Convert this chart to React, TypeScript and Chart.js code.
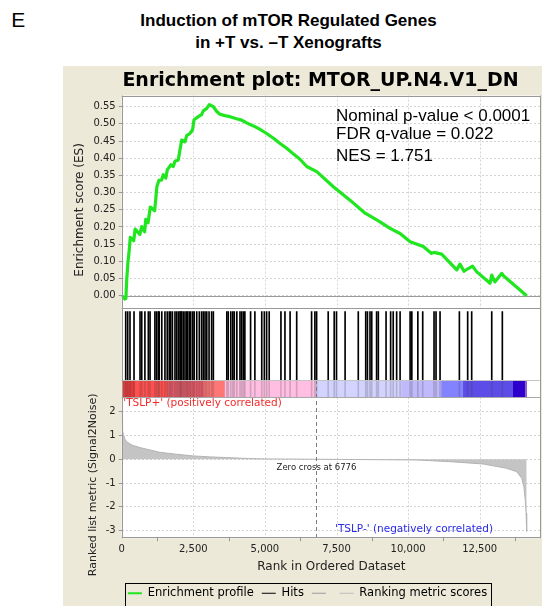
import React, { useEffect, useRef } from 'react';
import { Chart, registerables } from 'chart.js';

Chart.register(...registerables);

// ---------- data ----------
const X_MAX = 14640;
const X_TICKS = [0, 2500, 5000, 7500, 10000, 12500];
const ZERO_CROSS = 6776;

const ES_RANKS = [0, 115, 145, 175, 215, 260, 300, 420, 470, 630, 700, 800, 840, 920, 1000, 1150, 1230, 1300, 1390, 1450, 1540, 1590, 1720, 1800, 1860, 1975, 2035, 2095, 2210, 2270, 2380, 2475, 2525, 2675, 2790, 2850, 2970, 3060, 3200, 3320, 3430, 3600, 3780, 4010, 4190, 4360, 4600, 4830, 5060, 5300, 5530, 5760, 6000, 6225, 6460, 6810, 7390, 7970, 8500, 9020, 9370, 9720, 10070, 10530, 10820, 10900, 11170, 11700, 11810, 11950, 12100, 12250, 12390, 12860, 12920, 13030, 13270, 13330, 14140];
const ES_VALUES = [0.000, -0.010, -0.008, 0.046, 0.094, 0.130, 0.170, 0.160, 0.194, 0.178, 0.201, 0.186, 0.222, 0.212, 0.258, 0.247, 0.318, 0.336, 0.336, 0.352, 0.342, 0.366, 0.381, 0.376, 0.391, 0.395, 0.425, 0.453, 0.448, 0.466, 0.472, 0.483, 0.512, 0.521, 0.527, 0.538, 0.545, 0.556, 0.550, 0.536, 0.528, 0.524, 0.521, 0.515, 0.511, 0.503, 0.494, 0.484, 0.472, 0.458, 0.443, 0.429, 0.412, 0.397, 0.376, 0.361, 0.317, 0.278, 0.240, 0.215, 0.196, 0.181, 0.157, 0.143, 0.123, 0.126, 0.121, 0.075, 0.092, 0.071, 0.079, 0.086, 0.070, 0.036, 0.060, 0.040, 0.065, 0.058, 0.000];

const HIT_RANKS = [140, 210, 290, 430, 640, 700, 810, 930, 990, 1160, 1220, 1280, 1310, 1400, 1510, 1590, 1660, 1710, 1770, 1860, 1920, 1980, 2036, 2060, 2095, 2150, 2210, 2270, 2300, 2360, 2410, 2480, 2530, 2620, 2710, 2790, 2850, 2910, 2970, 3050, 3140, 3200, 3670, 3720, 3810, 3880, 3930, 4020, 4130, 4190, 4250, 4300, 4500, 4650, 4890, 4980, 5060, 5150, 5560, 5700, 5880, 6110, 6630, 6745, 6805, 7210, 7420, 7500, 7800, 8260, 8520, 8580, 8670, 8730, 8900, 8960, 9230, 9390, 9480, 9600, 9720, 10070, 10130, 10340, 10510, 10905, 10975, 11115, 11790, 12080, 12220, 12920, 13290];

const METRIC_RANKS = [0, 12, 30, 58, 116, 175, 290, 400, 640, 990, 1340, 1920, 2500, 3080, 3670, 4420, 5000, 6776, 8000, 9200, 10300, 11460, 12630, 13440, 13790, 13970, 14040, 14090, 14120, 14140];
const METRIC_VALUES = [2.05, 1.6, 1.2, 1.05, 0.84, 0.74, 0.64, 0.58, 0.49, 0.39, 0.29, 0.21, 0.14, 0.10, 0.07, 0.03, 0.015, 0.0, -0.01, -0.02, -0.03, -0.10, -0.20, -0.38, -0.52, -0.80, -1.14, -1.70, -2.26, -3.03];

const BAR_STARTS = [0, 465, 1630, 2850, 3610, 6790, 9775, 11170, 11930, 13675, 14090];
const BAR_ENDS = [465, 1630, 2850, 3610, 6790, 9775, 11170, 11930, 13675, 14090, 14140];
const BAR_COLORS = ['#e23a3a', '#ff4f4f', '#ea5a68', '#ff7676', '#ffbee2', '#d3d3ff', '#c0b9fb', '#8383ff', '#5c4de6', '#2f00cc', '#8b5fd6'];

const STATS = ['Nominal p-value < 0.0001', 'FDR q-value = 0.022', 'NES = 1.751'];
const LEGEND_LABELS = ['Enrichment profile', 'Hits', '', 'Ranking metric scores'];
const LEGEND_COLORS = ['#1fe61f', '#000000', '#9a9a9a', '#bdbdbd'];
const LEGEND_WIDTHS = [2, 1, 1, 1];

const ES_COLOR = '#1fe61f';
const AXIS_W = 47.7;

const line = (ctx: CanvasRenderingContext2D, x1: number, y1: number, x2: number, y2: number) => {
  ctx.beginPath();
  ctx.moveTo(x1, y1);
  ctx.lineTo(x2, y2);
  ctx.stroke();
};

const gseaPlugin = {
  id: 'gseaDecor',
  beforeDraw(chart: any) {
    const { ctx, chartArea: a } = chart;
    ctx.save();
    ctx.fillStyle = '#ffffff';
    ctx.fillRect(a.left, a.top, a.right - a.left, a.bottom - a.top);
    ctx.restore();
  },
  beforeDatasetsDraw(chart: any) {
    const { ctx, scales } = chart;
    const x = scales.x, es = scales.yES, m = scales.yM;
    ctx.save();
    ctx.lineWidth = 1;
    ctx.strokeStyle = '#d4d4d4';
    ctx.setLineDash([2, 2]);
    for (const t of x.ticks) {
      if (t.value === 0) continue;
      const px = Math.round(x.getPixelForValue(t.value)) + 0.5;
      line(ctx, px, es.top, px, es.bottom);
      line(ctx, px, m.top, px, m.bottom);
    }
    ctx.setLineDash([]);
    ctx.strokeStyle = '#9a9a9a';
    const y0 = Math.round(es.getPixelForValue(0)) + 0.5;
    line(ctx, x.left, y0, x.right, y0);
    ctx.restore();
  },
  afterDatasetsDraw(chart: any) {
    const { ctx, scales, chartArea: a } = chart;
    const x = scales.x, es = scales.yES, hits = scales.yHits, bar = scales.yBar, m = scales.yM;
    ctx.save();
    ctx.lineWidth = 1;
    // zero-cross line
    ctx.strokeStyle = '#7a7a7a';
    ctx.setLineDash([4, 3]);
    const zx = Math.round(x.getPixelForValue(ZERO_CROSS)) + 0.5;
    line(ctx, zx, bar.top, zx, m.bottom);
    ctx.setLineDash([]);
    // frames
    const hl = (y: number, c: string) => { ctx.strokeStyle = c; line(ctx, a.left, y, a.right, y); };
    hl(Math.round(es.top) + 0.5, '#999');
    hl(Math.round(es.bottom) + 0.5, '#999');
    hl(Math.round(hits.bottom) + 0.5, '#c4c4c4');
    hl(Math.round(bar.bottom) + 0.5, '#a8a8a8');
    hl(Math.round(m.bottom) - 0.5, '#999');
    ctx.strokeStyle = '#999';
    line(ctx, Math.round(a.left) + 0.5, a.top, Math.round(a.left) + 0.5, a.bottom);
    line(ctx, Math.round(a.right) - 0.5, a.top, Math.round(a.right) - 0.5, a.bottom);

    // stats text
    ctx.fillStyle = '#000';
    ctx.font = '17px "Liberation Sans", Arial, sans-serif';
    ctx.textAlign = 'left';
    ctx.textBaseline = 'alphabetic';
    const sx = a.left + 214.3;
    const sy = [25.2, 43.5, 65.5];
    STATS.forEach((s, i) => ctx.fillText(s, sx, es.top + sy[i]));

    // correlation labels
    ctx.font = '10.5px "DejaVu Sans", sans-serif';
    ctx.textBaseline = 'middle';
    ctx.fillStyle = '#f52a2a';
    ctx.fillText("'TSLP+' (positively correlated)", a.left + 1.6, m.top + 6.2);
    ctx.fillStyle = '#2a2ae6';
    ctx.fillText("'TSLP-' (negatively correlated)", a.left + 213.3, m.bottom - 9.3);

    // zero cross label
    ctx.font = '8.5px "DejaVu Sans", sans-serif';
    ctx.fillStyle = '#222';
    ctx.textAlign = 'center';
    ctx.fillText('Zero cross at ' + ZERO_CROSS, zx, m.getPixelForValue(0) + 9);

    // axis titles
    ctx.font = '12px "DejaVu Sans", sans-serif';
    ctx.fillStyle = '#222';
    ctx.save();
    ctx.translate(a.left - 41.7, (es.top + es.bottom) / 2 + 8);
    ctx.rotate(-Math.PI / 2);
    ctx.fillText('Enrichment score (ES)', 0, 0);
    ctx.restore();
    ctx.save();
    ctx.font = '11px "DejaVu Sans", sans-serif';
    ctx.translate(a.left - 28.2, (m.top + m.bottom) / 2 + 17);
    ctx.rotate(-Math.PI / 2);
    ctx.fillText('Ranked list metric (Signal2Noise)', 0, 0);
    ctx.restore();
    ctx.restore();
  },
  afterDraw(chart: any) {
    const lg = chart.legend;
    if (!lg || !lg.legendHitBoxes || !lg.legendHitBoxes.length) return;
    const hb = lg.legendHitBoxes;
    const first = hb[0];
    const last = hb[hb.length - 1];
    const { ctx } = chart;
    const left = Math.round(first.left - 3) + 0.5;
    const right = Math.round(last.left + last.width + 4) + 0.5;
    const top = Math.round(first.top + first.height / 2 - 10) + 0.5;
    ctx.save();
    ctx.strokeStyle = '#000';
    ctx.lineWidth = 1;
    ctx.strokeRect(left, top, right - left, chart.height + 4 - top);
    ctx.restore();
  },
};

export default function App() {
  const ref = useRef<HTMLCanvasElement>(null);

  useEffect(() => {
    if (!ref.current) return;
    Chart.defaults.font.family = "'DejaVu Sans', sans-serif";
    Chart.defaults.color = '#222';
    const fitY = (s: any) => { s.width = AXIS_W; };
    const chart = new Chart(ref.current, {
      type: 'line',
      data: {
        datasets: [
          {
            type: 'line',
            label: 'Enrichment profile',
            data: ES_RANKS.map((r, i) => ({ x: r, y: ES_VALUES[i] })),
            xAxisID: 'x',
            yAxisID: 'yES',
            borderColor: ES_COLOR,
            borderWidth: 3.2,
            pointRadius: 0,
            tension: 0,
            fill: false,
            borderJoinStyle: 'round',
          },
          {
            type: 'bar',
            label: 'hits-in-bar',
            data: HIT_RANKS.map((r) => ({ x: r, y: [-0.253, 0] })),
            xAxisID: 'x',
            yAxisID: 'yHits',
            backgroundColor: 'rgba(60,60,60,0.22)',
            barThickness: 1,
            grouped: false,
            clip: false,
          },
          {
            type: 'bar',
            label: 'Hits',
            data: HIT_RANKS.map((r) => ({ x: r, y: [0, 1] })),
            xAxisID: 'x',
            yAxisID: 'yHits',
            backgroundColor: '#000000',
            barThickness: 1,
            grouped: false,
          },
          {
            type: 'bar',
            label: 'rank colors',
            indexAxis: 'y',
            data: BAR_STARTS.map((s, i) => ({ y: 'c', x: [s, BAR_ENDS[i]] })),
            xAxisID: 'x',
            yAxisID: 'yBar',
            backgroundColor: BAR_COLORS,
            barPercentage: 1,
            categoryPercentage: 1,
            grouped: false,
            borderWidth: 0,
          },
          {
            type: 'line',
            label: 'Ranking metric scores',
            data: METRIC_RANKS.map((r, i) => ({ x: r, y: METRIC_VALUES[i] })),
            xAxisID: 'x',
            yAxisID: 'yM',
            borderColor: '#b3b3b3',
            backgroundColor: '#c4c4c4',
            borderWidth: 1,
            pointRadius: 0,
            tension: 0,
            fill: 'origin',
          },
        ] as any,
      },
      options: {
        responsive: false,
        animation: false,
        events: [],
        layout: { padding: { left: 11, right: 1, top: 29.5, bottom: 0 } },
        plugins: {
          title: { display: false },
          tooltip: { enabled: false },
          legend: {
            display: true,
            position: 'bottom',
            fullSize: true,
            onClick: () => {},
            labels: {
              usePointStyle: true,
              pointStyleWidth: 14,
              padding: 8,
              color: '#000',
              font: { size: 11.5 },
              generateLabels: () =>
                LEGEND_LABELS.map((text, i) => ({
                  text,
                  strokeStyle: LEGEND_COLORS[i],
                  fillStyle: LEGEND_COLORS[i],
                  lineWidth: LEGEND_WIDTHS[i],
                  pointStyle: 'line',
                  hidden: false,
                })),
            },
          },
        },
        scales: {
          x: {
            type: 'linear',
            position: 'bottom',
            min: 0,
            max: X_MAX,
            offset: false,
            afterBuildTicks: (s: any) => { s.ticks = X_TICKS.map((v) => ({ value: v })); },
            ticks: { color: '#222', font: { size: 10 }, padding: 2, maxRotation: 0, autoSkip: false },
            grid: { display: true, drawOnChartArea: false, drawTicks: true, tickLength: 3, tickColor: '#999', color: '#999' },
            border: { display: false },
            title: { display: true, text: 'Rank in Ordered Dataset', color: '#222', font: { size: 12 }, padding: { top: 0, bottom: 5.85 } },
            afterFit: (s: any) => { s.height = 41.25; s.paddingRight = 0; },
          },
          yM: {
            type: 'linear',
            position: 'left',
            stack: 'gsea',
            stackWeight: 141,
            min: -3.319,
            max: 2.605,
            ticks: { stepSize: 1, includeBounds: false, color: '#222', font: { size: 10 }, padding: 3, autoSkip: false },
            grid: { color: '#d4d4d4', drawTicks: true, tickLength: 3, tickColor: '#999' },
            border: { display: false, dash: [2, 2] },
            afterFit: fitY,
          },
          yBar: {
            type: 'category',
            labels: ['c'],
            position: 'left',
            stack: 'gsea',
            stackWeight: 17.3,
            offset: true,
            ticks: { display: false },
            grid: { display: false },
            border: { display: false },
            afterFit: fitY,
          },
          yHits: {
            type: 'linear',
            position: 'left',
            stack: 'gsea',
            stackWeight: 71.7,
            min: 0,
            max: 1.05,
            ticks: { display: false },
            grid: { display: false },
            border: { display: false },
            afterFit: fitY,
          },
          yES: {
            type: 'linear',
            position: 'left',
            stack: 'gsea',
            stackWeight: 212.8,
            min: -0.0367,
            max: 0.5826,
            ticks: { stepSize: 0.05, includeBounds: false, color: '#222', font: { size: 10 }, padding: 3, autoSkip: false, callback: (v: any) => Number(v).toFixed(2) },
            grid: { color: '#d4d4d4', drawTicks: true, tickLength: 3, tickColor: '#999' },
            border: { display: false, dash: [2, 2] },
            afterFit: fitY,
          },
        },
      } as any,
      plugins: [gseaPlugin],
    });
    return () => chart.destroy();
  }, []);

  return (
    <div style={{ position: 'fixed', left: 0, top: 0, width: 542, height: 606, overflow: 'hidden', background: '#fff' }}>
      <div style={{ position: 'absolute', left: 11.3, top: 9.2, fontFamily: "'Liberation Sans', Arial, sans-serif", fontSize: 21, lineHeight: '21px', color: '#000' }}>E</div>
      <div style={{ position: 'absolute', left: 0, top: 10, width: 577, textAlign: 'center', fontFamily: "'Liberation Sans', Arial, sans-serif", fontWeight: 'bold', fontSize: 17, lineHeight: '21.6px', color: '#000' }}>
        Induction of mTOR Regulated Genes
        <br />
        in +T vs. –T Xenografts
      </div>
      <div style={{ position: 'absolute', left: 63, top: 66, width: 479, height: 540, overflow: 'hidden', background: '#ECE9D8' }}>
        <canvas ref={ref} width={479} height={543} style={{ position: 'absolute', left: 0, top: 0, width: 479, height: 543, display: 'block' }} />
      </div>
      <div style={{ position: 'absolute', left: 0, top: 68.6, width: 641, textAlign: 'center', fontFamily: "'DejaVu Sans', sans-serif", fontWeight: 'bold', fontSize: 19, lineHeight: '21px', color: '#000', whiteSpace: 'nowrap' }}>
        Enrichment plot: MTOR_UP.N4.V1_DN
      </div>
    </div>
  );
}
